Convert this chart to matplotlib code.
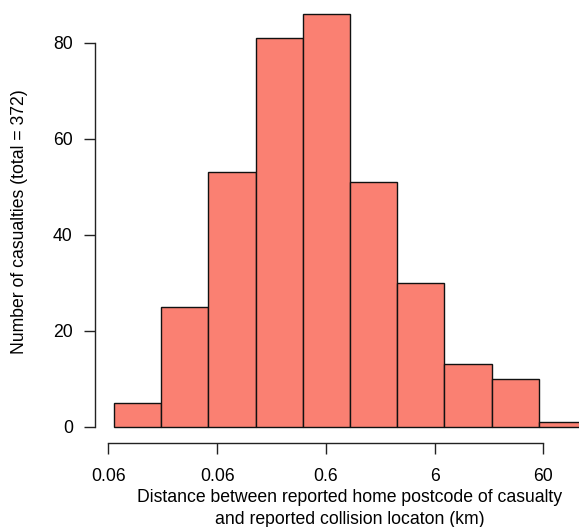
import numpy as np
import matplotlib
matplotlib.use("Agg")
import matplotlib.pyplot as plt

plt.rcParams['font.family'] = ['Liberation Sans', 'DejaVu Sans']

# histogram of ln(distance in km), bins of width 1
bin_left = [-5, -4, -3, -2, -1, 0, 1, 2, 3, 4]
counts = [5, 25, 53, 81, 86, 51, 30, 13, 10, 1]
tick_km = [0.006, 0.06, 0.6, 6, 60]
tick_labels = ["0.06", "0.06", "0.6", "6", "60"]
y_ticks = [0, 20, 40, 60, 80]

fs = 12.7

fig = plt.figure(figsize=(5.79, 5.27), dpi=100)
# plot region runs past the right edge of the figure (as in the original)
ax = fig.add_axes([95 / 579, 1 - 443.2 / 527, 510 / 579, 445.8 / 527])

ax.bar(bin_left, counts, width=1, align='edge', color='#FA8072',
       edgecolor='#111111', linewidth=1.0)

ax.set_xlim(-5.4, 5.4)
ax.set_ylim(-3.44, 89.44)

ax.spines['top'].set_visible(False)
ax.spines['right'].set_visible(False)
ax.spines['left'].set_bounds(0, 80)
tpos = np.log(tick_km)
ax.spines['bottom'].set_bounds(tpos[0], tpos[-1])
for s in ['left', 'bottom']:
    ax.spines[s].set_linewidth(1.0)
    ax.spines[s].set_color('#222222')

ax.set_xticks(tpos)
ax.set_xticklabels(tick_labels)
ax.set_yticks(y_ticks)
ax.tick_params(axis='both', labelsize=fs, length=8, width=1.0, color='#222222')
ax.tick_params(axis='x', pad=10)
ax.tick_params(axis='y', pad=8)

fig.text(350 / 579, 1 - 497.3 / 527,
         "Distance between reported home postcode of casualty",
         ha='center', va='center', fontsize=fs)
fig.text(350 / 579, 1 - 519 / 527,
         "and reported collision locaton (km)",
         ha='center', va='center', fontsize=fs)
fig.text(20 / 579, 1 - 222 / 527, "Number of casualties (total = 372)",
         ha='center', va='center', rotation=90, fontsize=fs)

fig.savefig("out.png", dpi=100)
